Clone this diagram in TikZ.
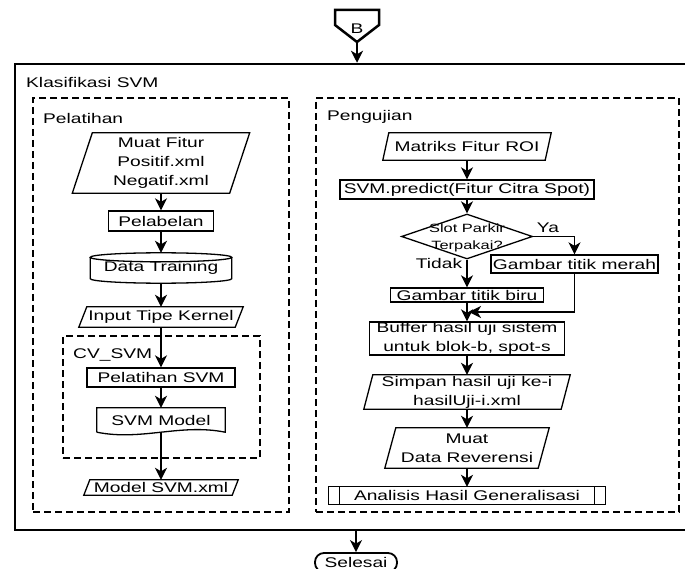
\documentclass[tikz,border=0pt]{standalone}
\usepackage{fontspec}
\setmainfont{Liberation Sans}[FakeStretch=1.37]
\usepackage{tikz}
\usetikzlibrary{shapes.geometric,arrows.meta,calc}

\newcommand{\ioshape}[2]{%
  \draw[shapeline] ([xshift=#2]#1.north west) -- (#1.north east)
    -- ([xshift=-#2]#1.south east) -- (#1.south west) -- cycle;}
\newcommand{\dbshape}[1]{%
  \draw[shapeline] let \p1=(#1.north west), \p2=(#1.south east), \n1={(\x2-\x1)/2} in
    (\x1/2+\x2/2,\y1-4.5pt) ellipse [x radius=\n1, y radius=4.5pt]
    (\x1,\y1-4.5pt) -- (\x1,\y2+4.5pt)
    arc [start angle=180, end angle=360, x radius=\n1, y radius=4.5pt] -- (\x2,\y1-4.5pt);}
\newcommand{\docshape}[1]{%
  \draw[shapeline] (#1.south west) -- (#1.north west) -- (#1.north east) -- (#1.south east)
    .. controls ([xshift=-45pt,yshift=9pt]#1.south east) and ([xshift=45pt,yshift=-9pt]#1.south west) .. (#1.south west);}
\newcommand{\subshape}[1]{%
  \draw[shapeline] (#1.north west) rectangle (#1.south east)
    ([xshift=11pt]#1.north west) -- ([xshift=11pt]#1.south west)
    ([xshift=-11pt]#1.north east) -- ([xshift=-11pt]#1.south east);}

\begin{document}
\begin{tikzpicture}[x=1pt,y=1pt,
  font=\fontsize{14}{19}\selectfont,
  shapeline/.style={line width=1.3pt},
  arr/.style={-{Stealth[length=12pt,width=12pt,inset=3.5pt]}, line width=1.5pt},
  plain/.style={inner sep=0pt, align=center},
  box/.style={plain, draw, line width=1.3pt},
  frame/.style={draw, line width=2.5pt, inner sep=0pt},
  group/.style={draw, line width=1.3pt, dash pattern=on 7pt off 4pt, inner sep=0pt},
  title/.style={inner sep=0pt, anchor=west},
  decision/.style={diamond, draw, line width=1.3pt, inner sep=0pt, aspect=2.9,
    minimum width=131pt, minimum height=45pt},
  small/.style={plain, font=\fontsize{12}{17}\selectfont},
  term/.style={plain, draw, line width=1.8pt, rounded corners=9pt}]
\useasboundingbox (0,0) rectangle (685,-569);

\coordinate (Btip) at (357,-42);
\coordinate (mrg) at (469,-312);

% frames
\node[frame, minimum width=673pt, minimum height=466pt] (klas) at (351.5,-297) {};
\node[group, minimum width=256pt, minimum height=414pt] (latihGrp) at (161,-305) {};
\node[group, minimum width=363pt, minimum height=414pt] (ujiGrp) at (497.5,-305) {};
\node[group, minimum width=197pt, minimum height=122pt] (cvsvm) at (161.5,-397) {};
\node[title] at (26,-82) {Klasifikasi SVM};
\node[title] at (43,-118) {Pelatihan};
\node[title] at (327,-117) {Pengujian};
\node[title] at (73,-355) {CV\_SVM};

% connector B
\draw[line width=2.5pt] (335,-10) -- (379,-10) -- (379,-25) -- (Btip) -- (335,-25) -- cycle;
\node[plain] (Blab) at (357,-29) {B};

% pelatihan
\node[plain, minimum width=177pt, minimum height=60pt] (muat) at (161,-163) {Muat Fitur\\Positif.xml\\Negatif.xml};
\node[box, minimum width=105pt, minimum height=20pt] (label) at (161,-221) {Pelabelan};
\node[plain, minimum width=141pt, minimum height=30pt] (dtrain) at (161,-268) {\raisebox{-3pt}{Data Training}};
\node[plain, minimum width=164pt, minimum height=20pt] (kernel) at (161,-317) {Input Tipe Kernel};
\node[box, minimum width=148pt, minimum height=19pt] (latih) at (161,-377.5) {Pelatihan SVM};
\node[plain, minimum width=128pt, minimum height=24pt] (model) at (161,-420) {\raisebox{-2pt}{SVM Model}};
\node[plain, minimum width=154pt, minimum height=15pt] (modelxml) at (161,-487.5) {Model SVM.xml};
\ioshape{muat}{20pt}
\dbshape{dtrain}
\ioshape{kernel}{8pt}
\docshape{model}
\ioshape{modelxml}{6pt}

% pengujian
\node[plain, minimum width=168pt, minimum height=27pt] (roi) at (467,-146.5) {Matriks Fitur ROI};
\node[box, minimum width=254pt, minimum height=19pt] (predict) at (467,-189.5) {SVM.predict(Fitur Citra Spot)};
\node[decision] (slot) at (467,-236.5) {};
\node[small] (slotT) at (467,-237.5) {Slot Parkir\\Terpakai?};
\node[box, minimum width=167pt, minimum height=18pt] (merah) at (574.5,-264) {Gambar titik merah};
\node[box, minimum width=153pt, minimum height=14pt] (biru) at (467,-295) {Gambar titik biru};
\node[box, minimum width=195pt, minimum height=33pt] (buffer) at (467,-338.5) {Buffer hasil uji sistem\\untuk blok-b, spot-s};
\node[plain, minimum width=206pt, minimum height=34pt] (simpan) at (467,-392) {Simpan hasil uji ke-i\\hasilUji-i.xml};
\node[plain, minimum width=164pt, minimum height=40pt] (ref) at (467,-448) {Muat\\Data Reverensi};
\node[plain, minimum width=276pt, minimum height=17pt] (analisis) at (467,-495.5) {Analisis Hasil Generalisasi};
\ioshape{roi}{6pt}
\ioshape{simpan}{9pt}
\ioshape{ref}{11pt}
\subshape{analisis}
\node[plain] (ya) at (548,-228) {Ya};
\node[plain] (tidak) at (439,-263) {Tidak};

\node[term, minimum width=82pt, minimum height=19pt] (selesai) at (356,-562.5) {Selesai};

% arrows
\draw[arr] (Btip) -- (Btip |- klas.north);
\draw[arr] (muat) -- (label);
\draw[arr] (label) -- (dtrain);
\draw[arr] (dtrain) -- (kernel);
\draw[arr] (kernel) -- (latih);
\draw[arr] (latih) -- (model);
\draw[arr] (model) -- (modelxml);
\draw[arr] (roi) -- (predict);
\draw[arr] (predict) -- (slot);
\draw[arr] (slot.east) -| (merah.north);
\draw[arr] (slot) -- (biru);
\draw[arr] (merah.south) |- (mrg);
\draw[arr] (biru) -- (buffer);
\draw[arr] (buffer) -- (simpan);
\draw[arr] (simpan) -- (ref);
\draw[arr] (ref) -- (analisis);
\draw[arr] (selesai.north |- klas.south) -- (selesai.north);
\end{tikzpicture}
\end{document}
